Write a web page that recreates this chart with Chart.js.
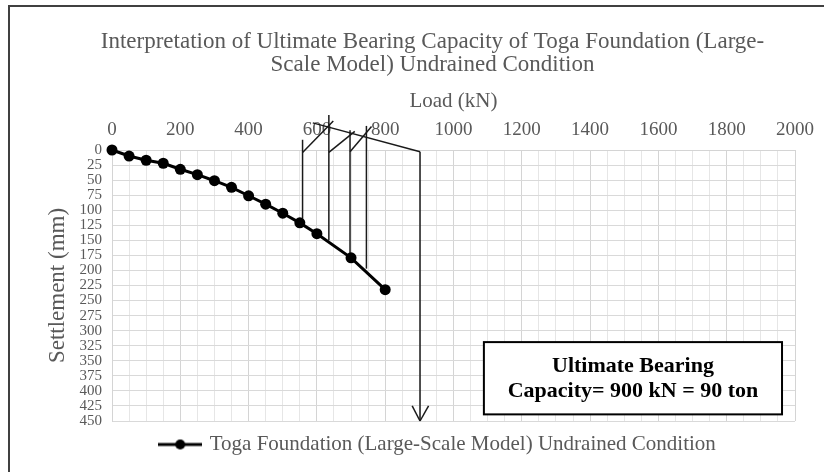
<!DOCTYPE html>
<html>
<head>
<meta charset="utf-8">
<script src="https://cdn.jsdelivr.net/npm/chart.js@4.4.0/dist/chart.umd.min.js"></script>
<style>
  html, body { margin: 0; padding: 0; background: #fff; }
  #wrap { width: 824px; height: 472px; }
</style>
</head>
<body>
<div id="wrap"><canvas id="chartCanvas"></canvas></div>
<script>
// load (kN) and measured settlement (mm)
const loads = [0, 50, 100, 150, 200, 250, 300, 350, 400, 450, 500, 550, 600, 700, 800];
const settlements = [0, 10, 17, 22, 32, 41, 51, 62, 76, 90, 105, 121, 139, 179, 232];

// graphical construction lines, [x1, y1, x2, y2] in load / settlement units
const constructionLines = [
    [558, 114, 558, -17],
    [635, 150, 635, -58],
    [697, 179, 697, -33],
    [745, 197, 745, -40],
    [902, 450, 902, 3],
    [588, -45, 902, 3],
    [558, 4, 648, -48],
    [635, 4, 711, -31],
    [697, 3, 760, -39],
    [879, 425, 902, 450],
    [902, 450, 927, 425]
];

const titleLines = [
    'Interpretation of Ultimate Bearing Capacity of Toga Foundation (Large-',
    'Scale Model) Undrained Condition'
];
const seriesLabel = 'Toga Foundation (Large-Scale Model) Undrained Condition';
const boxLines = ['Ultimate Bearing', 'Capacity= 900 kN = 90 ton'];
// result box corners in data units
const boxX = [1089, 1962];
const boxY = [319, 439];

const serif = "'Liberation Serif', 'Times New Roman', serif";
const grey = '#595959';

// legend symbol: line with a round marker
const legendIcon = document.createElement('canvas');
legendIcon.width = 44;
legendIcon.height = 12;
(function () {
    const c = legendIcon.getContext('2d');
    c.strokeStyle = '#000';
    c.lineWidth = 3;
    c.beginPath();
    c.moveTo(0, 6);
    c.lineTo(44, 6);
    c.stroke();
    c.fillStyle = '#000';
    c.beginPath();
    c.arc(22, 6, 5, 0, Math.PI * 2);
    c.fill();
})();

const datasets = [{
    label: seriesLabel,
    data: loads.map((x, i) => ({ x: x, y: settlements[i] })),
    showLine: true,
    borderColor: '#000',
    backgroundColor: '#000',
    borderWidth: 3,
    pointRadius: 5.5,
    pointBackgroundColor: '#000',
    pointBorderWidth: 0,
    clip: false,
    order: 0
}];
constructionLines.forEach((s, i) => {
    datasets.push({
        label: 'construction ' + i,
        data: [{ x: s[0], y: s[1] }, { x: s[2], y: s[3] }],
        showLine: true,
        borderColor: '#1a1a1a',
        borderWidth: 1.5,
        pointRadius: 0,
        clip: false,
        order: 1
    });
});

const framePlugin = {
    id: 'frame',
    afterLayout(chart) {
        // Excel centres title and legend on the whole frame, not the plot
        chart.titleBlock.left += 30;
        chart.titleBlock.right += 30;
        chart.legend.left += 36;
        chart.legend.right += 36;
    },
    afterDraw(chart) {
        const ctx = chart.ctx;
        ctx.save();
        ctx.strokeStyle = '#404040';
        ctx.lineWidth = 2;
        ctx.beginPath();
        ctx.moveTo(9, 472);
        ctx.lineTo(9, 6);
        ctx.lineTo(824, 6);
        ctx.stroke();

        // result box
        const xs = chart.scales.x, ys = chart.scales.y;
        const l = xs.getPixelForValue(boxX[0]), r = xs.getPixelForValue(boxX[1]);
        const t = ys.getPixelForValue(boxY[0]), b = ys.getPixelForValue(boxY[1]);
        ctx.fillStyle = '#fff';
        ctx.fillRect(l, t, r - l, b - t);
        ctx.strokeStyle = '#000';
        ctx.lineWidth = 2;
        ctx.strokeRect(l, t, r - l, b - t);
        ctx.fillStyle = '#000';
        ctx.font = 'bold 22px ' + serif;
        ctx.textAlign = 'center';
        ctx.textBaseline = 'middle';
        const cx = (l + r) / 2, cy = (t + b) / 2;
        ctx.fillText(boxLines[0], cx, cy - 12);
        ctx.fillText(boxLines[1], cx, cy + 13);
        ctx.restore();
    }
};

const ctx = document.getElementById('chartCanvas').getContext('2d');
new Chart(ctx, {
    type: 'scatter',
    data: { datasets: datasets },
    options: {
        responsive: true,
        maintainAspectRatio: false,
        animation: false,
        layout: { padding: { left: 10, right: 29, top: 22, bottom: 7 } },
        plugins: {
            title: {
                display: true,
                text: titleLines,
                color: grey,
                font: { family: serif, size: 23, weight: 'normal', lineHeight: 1.0 },
                padding: { top: 8, bottom: 2 }
            },
            legend: {
                position: 'bottom',
                labels: {
                    color: grey,
                    font: { family: serif, size: 21 },
                    usePointStyle: true,
                    pointStyleWidth: 38,
                    boxHeight: 12,
                    padding: 13,
                    filter: (item) => item.datasetIndex === 0,
                    generateLabels: (chart) => [{
                        text: seriesLabel,
                        pointStyle: legendIcon,
                        fillStyle: '#000',
                        strokeStyle: '#000',
                        lineWidth: 0,
                        fontColor: grey,
                        datasetIndex: 0
                    }]
                }
            },
            tooltip: { enabled: false }
        },
        scales: {
            x: {
                type: 'linear',
                position: 'top',
                min: 0,
                max: 2000,
                afterFit: (scale) => { scale.height = 72; },
                ticks: {
                    stepSize: 50,
                    autoSkip: false,
                    maxRotation: 0,
                    padding: 9,
                    color: grey,
                    font: { family: serif, size: 19 },
                    callback: (v) => (v % 200 === 0 ? String(v) : '')
                },
                grid: {
                    drawTicks: false,
                    color: (c) => (c.tick && c.tick.value % 200 === 0 ? '#d4d4d4' : '#e6e6e6'),
                    lineWidth: 1
                },
                border: { display: true, color: '#d4d4d4' },
                title: {
                    display: true,
                    text: 'Load (kN)',
                    color: grey,
                    font: { family: serif, size: 21 },
                    padding: { top: 11, bottom: 0 }
                }
            },
            y: {
                type: 'linear',
                reverse: true,
                min: 0,
                max: 450,
                afterFit: (scale) => { scale.width = 102; },
                ticks: {
                    stepSize: 25,
                    autoSkip: false,
                    padding: 10,
                    color: grey,
                    font: { family: serif, size: 15 }
                },
                grid: {
                    drawTicks: false,
                    color: '#d9d9d9',
                    lineWidth: 1
                },
                border: { display: true, color: '#d4d4d4' },
                title: {
                    display: true,
                    text: 'Settlement (mm)',
                    color: grey,
                    font: { family: serif, size: 23 },
                    padding: { top: 34, bottom: 0 }
                }
            }
        }
    },
    plugins: [framePlugin]
});
</script>
</body>
</html>
